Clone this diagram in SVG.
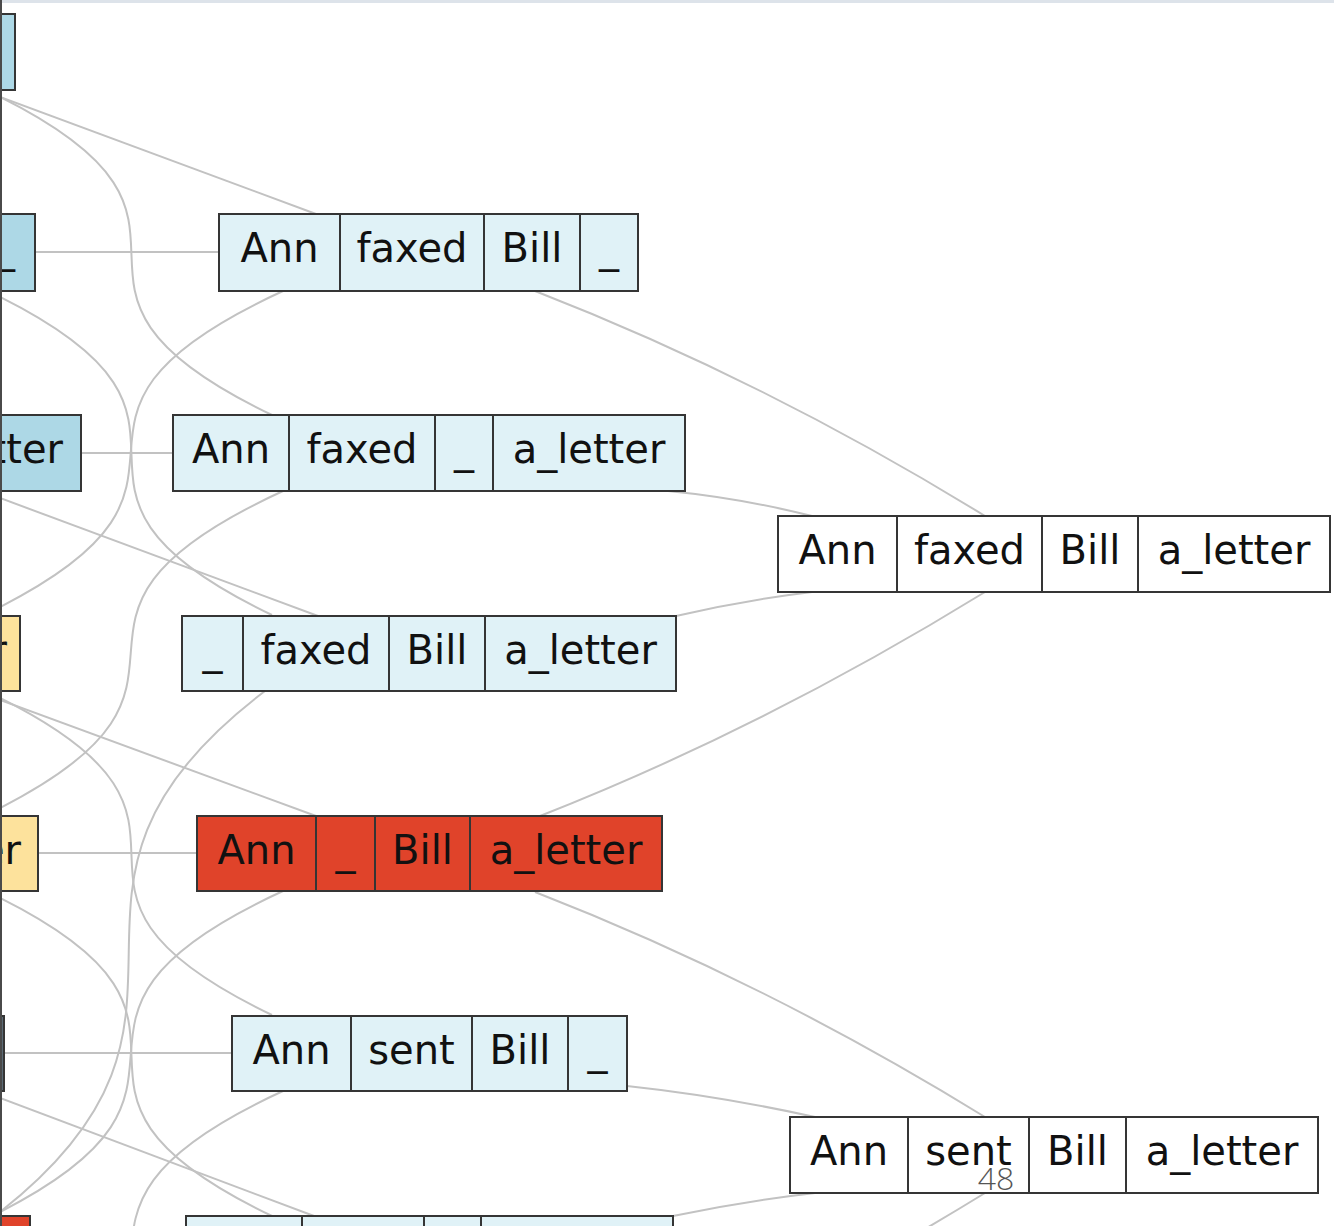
<svg xmlns="http://www.w3.org/2000/svg" width="1334" height="1226" viewBox="0 0 1334 1226">
<style>
.c{stroke:#353535;stroke-width:2}
.lb{fill:#e0f2f7}
.mb{fill:#add8e6}
.yl{fill:#fde29c}
.rd{fill:#e0432a}
.wh{fill:#ffffff}
.sl{fill:#5b6a75}
text{font-family:"DejaVu Sans","Liberation Sans",sans-serif;font-size:40px;fill:#111;text-anchor:middle}
text.end{text-anchor:end}
text.pg{font-family:"Open Sans","Liberation Sans",sans-serif;font-size:32px;font-weight:300;fill:#555}
.e{fill:none;stroke:#c2c2c2;stroke-width:2}
</style>
<rect x="0" y="0" width="1334" height="1226" fill="#ffffff"/>
<g id="connectors">
<path class="e" d="M0,97 C260,227 0,285 272,415"/>
<path class="e" d="M0,297 C260,427 0,485 272,615"/>
<path class="e" d="M0,698 C260,828 0,885 272,1015"/>
<path class="e" d="M0,898 C260,1028 0,1086 272,1216"/>
<path class="e" d="M283,291 C0,421 255,477 0,607"/>
<path class="e" d="M283,491 C0,621 255,678 0,808"/>
<path class="e" d="M265,691 C0,891 255,1012 0,1212"/>
<path class="e" d="M283,891 C0,1021 255,1082 0,1212"/>
<path class="e" d="M283,1091 C0,1221 255,1282 0,1412"/>
<path class="e" d="M0,97 L316,214"/>
<path class="e" d="M0,498 L318,616"/>
<path class="e" d="M0,700 L316,816"/>
<path class="e" d="M0,1098 L314,1216"/>
<path class="e" d="M35,252 H219"/>
<path class="e" d="M81,453 H173"/>
<path class="e" d="M38,853 H197"/>
<path class="e" d="M4,1053 H232"/>
<path class="e" d="M535,291 Q764,380 985,516"/>
<path class="e" d="M668,491 Q740,498 812,516"/>
<path class="e" d="M676,616 Q745,600 812,592"/>
<path class="e" d="M540,816 Q764,728 985,592"/>
<path class="e" d="M535,892 Q764,981 985,1117"/>
<path class="e" d="M627,1086 Q720,1096 815,1117"/>
<path class="e" d="M673,1216 Q745,1201 815,1193"/>
<path class="e" d="M985,1193 Q764,1329 540,1417"/>
</g>
<g id="L0"><rect class="c mb" x="-40" y="14" width="55" height="76"/></g>
<g id="L1"><rect class="c mb" x="-100" y="214" width="135" height="77"/><text x="5" y="262">_</text></g>
<g id="L2"><rect class="c mb" x="-200" y="415" width="281" height="76"/><text class="end" x="63" y="463">a_letter</text></g>
<g id="L3"><rect class="c yl" x="-200" y="616" width="220" height="75"/><text class="end" x="7" y="664">a_letter</text></g>
<g id="L4"><rect class="c yl" x="-200" y="816" width="238" height="75"/><text class="end" x="21" y="864">a_letter</text></g>
<g id="L5"><rect class="c sl" x="-100" y="1016" width="104" height="75"/></g>
<g id="L6"><rect class="c rd" x="-100" y="1216" width="130" height="76"/></g>
<g id="nA">
<rect class="c lb" x="219" y="214" width="121" height="77"/>
<rect class="c lb" x="340" y="214" width="144" height="77"/>
<rect class="c lb" x="484" y="214" width="96" height="77"/>
<rect class="c lb" x="580" y="214" width="58" height="77"/>
<text x="279.5" y="262">Ann</text><text x="412" y="262">faxed</text><text x="532" y="262">Bill</text><text x="609" y="262">_</text>
</g>
<g id="nB">
<rect class="c lb" x="173" y="415" width="116" height="76"/>
<rect class="c lb" x="289" y="415" width="146" height="76"/>
<rect class="c lb" x="435" y="415" width="58" height="76"/>
<rect class="c lb" x="493" y="415" width="192" height="76"/>
<text x="231" y="463">Ann</text><text x="362" y="463">faxed</text><text x="464" y="463">_</text><text x="589" y="463">a_letter</text>
</g>
<g id="nC">
<rect class="c lb" x="182" y="616" width="61" height="75"/>
<rect class="c lb" x="243" y="616" width="146" height="75"/>
<rect class="c lb" x="389" y="616" width="96" height="75"/>
<rect class="c lb" x="485" y="616" width="191" height="75"/>
<text x="212.5" y="664">_</text><text x="316" y="664">faxed</text><text x="437" y="664">Bill</text><text x="580.5" y="664">a_letter</text>
</g>
<g id="nD">
<rect class="c rd" x="197" y="816" width="119" height="75"/>
<rect class="c rd" x="316" y="816" width="59" height="75"/>
<rect class="c rd" x="375" y="816" width="95" height="75"/>
<rect class="c rd" x="470" y="816" width="192" height="75"/>
<text x="256.5" y="864">Ann</text><text x="345.5" y="864">_</text><text x="422.5" y="864">Bill</text><text x="566" y="864">a_letter</text>
</g>
<g id="nE">
<rect class="c lb" x="232" y="1016" width="119" height="75"/>
<rect class="c lb" x="351" y="1016" width="121" height="75"/>
<rect class="c lb" x="472" y="1016" width="96" height="75"/>
<rect class="c lb" x="568" y="1016" width="59" height="75"/>
<text x="291.5" y="1064">Ann</text><text x="411.5" y="1064">sent</text><text x="520" y="1064">Bill</text><text x="597.5" y="1064">_</text>
</g>
<g id="nF">
<rect class="c wh" x="778" y="516" width="119" height="76"/>
<rect class="c wh" x="897" y="516" width="145" height="76"/>
<rect class="c wh" x="1042" y="516" width="96" height="76"/>
<rect class="c wh" x="1138" y="516" width="192" height="76"/>
<text x="837.5" y="564">Ann</text><text x="969.5" y="564">faxed</text><text x="1090" y="564">Bill</text><text x="1234" y="564">a_letter</text>
</g>
<g id="nG">
<rect class="c wh" x="790" y="1117" width="118" height="76"/>
<rect class="c wh" x="908" y="1117" width="121" height="76"/>
<rect class="c wh" x="1029" y="1117" width="97" height="76"/>
<rect class="c wh" x="1126" y="1117" width="192" height="76"/>
<text x="849" y="1165">Ann</text><text x="968.5" y="1165">sent</text><text x="1077.5" y="1165">Bill</text><text x="1222" y="1165">a_letter</text>
</g>
<g id="nH">
<rect class="c lb" x="186" y="1216" width="116" height="76"/>
<rect class="c lb" x="302" y="1216" width="122" height="76"/>
<rect class="c lb" x="424" y="1216" width="57" height="76"/>
<rect class="c lb" x="481" y="1216" width="192" height="76"/>
</g>
<rect x="0" y="0" width="1334" height="3" fill="#dde3ea"/>
<rect x="0" y="0" width="2" height="1226" fill="#4a4a4a"/>
<text class="pg" x="996" y="1190">48</text>
</svg>
